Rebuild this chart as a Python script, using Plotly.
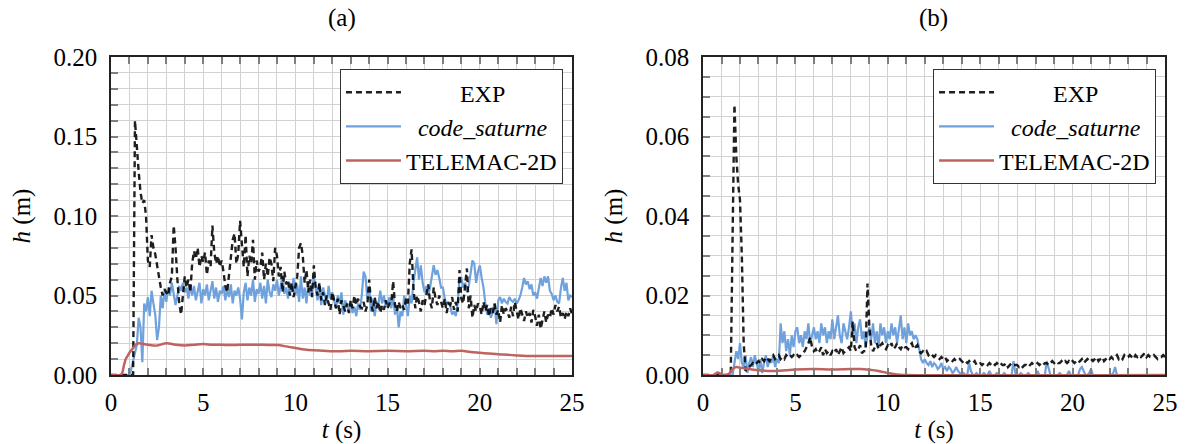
import numpy as np
import plotly.graph_objects as go

# Sampling times of the gauge records (s)
t = np.round(np.arange(0, 25.001, 0.1), 1)

# ---- Gauge (a): water depth in mm ----
exp_a_mm = [
    0, 0, 0, 0, 0, 0, 0, 0, 0, 0,
    0, 0, 0, 160, 142, 128, 115, 108, 110, 100,
    72, 68, 88, 80, 76, 68, 60, 55, 50, 54,
    52, 50, 58, 62, 94, 80, 60, 45, 38, 50,
    62, 55, 60, 52, 70, 78, 73, 80, 68, 75,
    71, 77, 63, 72, 68, 94, 77, 70, 75, 68,
    72, 65, 56, 52, 62, 72, 85, 89, 70, 76,
    97, 82, 68, 88, 62, 75, 70, 85, 60, 72,
    65, 68, 77, 60, 70, 62, 74, 70, 59, 80,
    75, 62, 68, 52, 65, 57, 60, 50, 58, 49,
    55, 62, 80, 83, 75, 58, 66, 52, 60, 49,
    69, 55, 50, 58, 47, 52, 44, 50, 45, 41,
    52, 46, 42, 48, 38, 47, 44, 40, 45, 39,
    47, 42, 50, 44, 48, 43, 42, 46, 40, 44,
    60, 45, 40, 49, 42, 46, 39, 44, 41, 47,
    42, 45, 45, 59, 44, 40, 46, 42, 44, 41,
    48, 45, 70, 79, 55, 42, 50, 46, 40, 47,
    44, 52, 57, 46, 42, 55, 48, 44, 50, 46,
    42, 48, 39, 45, 44, 49, 41, 46, 40, 66,
    48, 45, 55, 67, 42, 50, 36, 44, 40, 45,
    43, 38, 46, 40, 44, 37, 42, 39, 45, 38,
    41, 33, 44, 38, 42, 40, 36, 43, 37, 46,
    40, 35, 42, 38, 34, 40, 36, 39, 33, 41,
    37, 31, 38, 29, 35, 40, 33, 38, 36, 42,
    38, 44, 40, 43, 36, 39, 35, 40, 37, 42,
    38,
]

cs_a_mm = [
    0, 0, 0, 0, 0, 0, 0, 0, 0, 0,
    0, 4, 9, 14, 19, 36, 30, 8, 45, 40,
    49, 37, 53, 45, 38, 22, 30, 50, 42, 53,
    46, 55, 50, 58, 52, 44, 50, 56, 53, 58,
    52, 55, 48, 57, 50, 56, 47, 53, 58, 45,
    54, 50, 57, 47, 52, 59, 48, 55, 46, 53,
    51, 56, 47, 54, 49, 57, 45, 53, 50, 55,
    48, 35, 52, 58, 47, 55, 50, 60, 46, 54,
    51, 58, 48, 56, 45, 60, 52, 49, 57, 53,
    60, 50, 56, 62, 51, 55, 48, 58, 52, 61,
    50, 57, 46, 62, 48, 55, 45, 58, 50, 52,
    62, 54, 47, 58, 44, 55, 50, 45, 56, 48,
    52, 47, 42, 50, 45, 52, 38, 47, 44, 40,
    46, 39, 43, 37, 45, 41, 50, 65, 62, 48,
    55, 40, 48, 37, 46, 44, 53, 45, 50, 43,
    45, 49, 42, 50, 38, 44, 30, 40, 37, 50,
    44, 37, 50, 45, 58, 66, 74, 60, 69, 58,
    52, 56, 50, 55, 62, 69, 63, 66, 61, 55,
    55, 48, 44, 46, 43, 38, 40, 37, 45, 61,
    61, 55, 58, 52, 56, 63, 72, 70, 58, 65,
    69, 61, 55, 45, 38, 42, 36, 40, 45, 32,
    47, 49, 45, 48, 46, 45, 49, 47, 46, 48,
    45, 47, 50, 55, 61, 57, 59, 54, 57, 50,
    52, 48, 55, 61, 56, 62, 58, 62, 53, 51,
    47, 50, 46, 45, 55, 61, 53, 58, 47, 50,
    49,
]

tel_a_t = [0, 0.5, 0.6, 0.7, 0.8, 0.9, 1.0, 1.1, 1.2, 1.3, 1.4, 1.5, 1.75, 2.0,
           2.5, 3.0, 3.5, 4.0, 4.5, 5.0, 5.5, 6.0, 6.5, 7.0, 7.5, 8.0, 8.5, 9.0,
           9.5, 10.0, 10.5, 11.0, 11.5, 12.0, 12.5, 13.0, 14.0, 15.0, 16.0, 17.0,
           17.5, 18.0, 18.5, 19.0, 19.5, 20.0, 20.5, 21.0, 21.5, 22.0, 22.5, 23.0,
           24.0, 25.0]
tel_a_mm = [0, 0, 1, 6, 10, 12, 14, 15.5, 17, 18.5, 19.5, 20, 19.5, 19,
            18.5, 20, 19, 18.5, 19, 19.5, 19, 19, 18.8, 19, 19, 19, 18.9, 18.8,
            18, 17, 16, 15.5, 15.3, 15, 15, 15.2, 15, 15.2, 15, 15.2,
            15, 15.3, 15, 15.2, 14.5, 14, 13.5, 13, 12.7, 12.3, 12, 12,
            12, 12]

# ---- Gauge (b): water depth in mm ----
exp_b_mm = [
    0, 0, 0, 0, 0, 0, 0, 0, 0, 0,
    0, 0, 0, 0, 0, 0, 35, 68, 55, 48,
    44, 30, 8, 1, 1.5, 2, 2.5, 3, 2.5, 3,
    3.5, 3, 4, 3.5, 4.5, 4, 3.5, 4.5, 5, 4,
    4.5, 5, 4, 4.5, 4, 5, 4.5, 5, 4.5, 5,
    4.5, 5, 4.5, 5, 5.5, 6, 7, 8, 9.5, 7,
    6, 6.5, 5.5, 6, 7, 5, 6.5, 5.5, 6, 5,
    6, 5.5, 6.5, 5, 6, 7, 5.5, 6, 6.5, 7,
    6, 13.5, 7, 6, 6.5, 7.5, 5.5, 6, 6, 23,
    12, 7.5, 6, 7, 8, 6.5, 7.5, 8, 7, 6.5,
    7.5, 7, 8, 6.5, 7, 8, 7, 6.5, 7.5, 7,
    7, 6.5, 7.5, 8, 6.5, 7, 7.5, 6, 5.5, 6,
    5.5, 6, 5, 5.5, 5, 4.5, 5, 4.5, 4, 4.5,
    4, 4.5, 3.5, 4, 4, 3.5, 4, 3.5, 3.5, 4,
    3.5, 3, 3.5, 3, 3.5, 3, 3, 3.5, 2.5, 3,
    3, 2.5, 3, 3, 2.5, 3, 2.5, 3, 2.5, 3,
    2.5, 3, 2.5, 2.5, 3, 2, 2.5, 3, 2.5, 2.5,
    2.5, 2, 2.5, 2, 2.5, 2.5, 2, 2.5, 3, 2.5,
    2.5, 3, 2.5, 3, 2.5, 3, 3, 2.5, 3, 3.5,
    3, 3.5, 3, 3, 3.5, 3, 3.5, 3, 3.5, 3,
    3.5, 3, 3.5, 3, 3.5, 4, 3, 3.5, 4, 3.5,
    4, 3.5, 4, 4.5, 3.5, 4, 4.5, 3.5, 4, 4.5,
    4, 4.5, 4, 4.5, 5, 4, 4.5, 4, 5, 4.5,
    4.5, 5, 4.5, 4, 5, 4.5, 5, 4.5, 5, 5.5,
    4.5, 5, 4.5, 4.5, 5, 4.5, 4, 4.5, 4.5, 5,
    4.5,
]

cs_b_mm = [
    0, 0, 0, 0, 0, 0, 0, 0, 0, 0,
    0, 0, 0, 0, 0, 0, 0, 3, 6, 4,
    8, 3, 2, 5, 0.5, 3, 4.5, 2, 5, 3,
    1, 4, 0.5, 3, 5, 2, 4, 3, 5, 2,
    4, 3, 13, 8, 11, 6, 9, 5, 10, 7,
    11, 12, 8, 10, 7, 11, 9, 13, 8, 10,
    12, 9, 11, 8, 13, 10, 12, 8, 11, 9,
    14, 9, 12, 15, 10, 8, 13, 11, 9, 12,
    16, 10, 13, 8, 12, 14, 9, 11, 7, 10,
    12, 9, 13, 8, 11, 7, 13, 10, 12, 8,
    11, 9, 13, 10, 12, 8, 11, 15, 9, 12,
    8, 13, 10, 11, 9, 10, 9, 6, 4, 3,
    4, 3, 2.5, 3.5, 2, 3, 2.5, 1.5, 2, 3,
    1.5, 2, 1, 2, 1.5, 0.5, 1, 2, 1, 0.5,
    0, 0.5, 0, 0, 3, 1, 0, 0, 0.5, 0,
    0, 0, 0.5, 0, 0, 1, 0, 0, 0, 0.5,
    0, 0, 0, 0.5, 0, 0, 0, 0, 3.5, 0.5,
    0, 0, 0.5, 0, 0, 0, 0.5, 0, 0, 0,
    0, 1, 0, 0, 0, 0, 3.5, 2, 0, 0,
    0, 0, 0, 0.5, 0, 0, 0, 0, 1, 0,
    0, 0, 0, 0, 1.5, 2, 1, 0, 0, 0.5,
    1.5, 0, 0, 0, 0, 0, 0, 0, 0, 0,
    0, 0, 0.5, 2, 0, 0, 0, 0, 0, 0,
    0, 0, 0, 0, 0, 0, 0, 0, 0, 0,
    0, 0, 0, 0, 0, 0, 0, 0, 0, 0,
    0,
]

tel_b_t = [0, 0.6, 0.7, 0.8, 0.9, 1.0, 1.4, 1.6, 1.8, 2.0, 2.5, 3.0, 3.5, 4.0,
           4.5, 5.0, 6.0, 7.0, 8.0, 8.5, 9.0, 9.5, 10.0, 10.5, 11.0, 25.0]
tel_b_mm = [0, 0, 0.4, 0.6, 0.4, 0, 0.3, 1.5, 2, 1.8, 1.5, 1.2, 1.0, 1.0,
            1.2, 1.4, 1.5, 1.4, 1.5, 1.5, 1.3, 1.0, 0.5, 0.1, 0, 0]

FONT = "Liberation Serif"
C_EXP = "rgba(0,0,0,0.88)"
C_CS = "#6fa2dd"
C_TEL = "#c0625f"
NB = "\u00a0"
NAMES = [NB * 9 + "EXP", NB * 2 + "<i>code_saturne</i>", "TELEMAC-2D"]

fig = go.Figure()


def mm(v):
    return np.asarray(v, dtype=float) / 1000.0


panels = [
    ("x", "y", "legend", exp_a_mm, cs_a_mm, tel_a_t, tel_a_mm),
    ("x2", "y2", "legend2", exp_b_mm, cs_b_mm, tel_b_t, tel_b_mm),
]
for xa, ya, lg, e, c, tt, tv in panels:
    fig.add_trace(go.Scatter(x=t, y=mm(c), mode="lines", name=NAMES[1],
                             line=dict(color=C_CS, width=2.2), xaxis=xa, yaxis=ya,
                             legend=lg, legendrank=2))
    fig.add_trace(go.Scatter(x=t, y=mm(e), mode="lines", name=NAMES[0],
                             line=dict(color=C_EXP, width=2.4, dash="6px,4px"),
                             xaxis=xa, yaxis=ya, legend=lg, legendrank=1))
    fig.add_trace(go.Scatter(x=tt, y=mm(tv), mode="lines", name=NAMES[2],
                             line=dict(color=C_TEL, width=2.5, shape="spline"),
                             xaxis=xa, yaxis=ya, legend=lg, legendrank=3))

GRID = "#d2d2d2"
TICK = "#7f7f7f"
TXT = dict(family=FONT, size=25, color="black")


def xax(domain, anchor):
    return dict(domain=domain, anchor=anchor, range=[0, 25], dtick=5, tick0=0,
                automargin=False,
                showgrid=True, gridcolor=GRID, gridwidth=1, zeroline=False,
                ticks="inside", ticklen=7, tickwidth=2, tickcolor=TICK,
                showline=True, linecolor="#222", linewidth=1.5, mirror="ticks",
                minor=dict(dtick=1, tick0=0, ticks="inside", ticklen=7, tickwidth=2,
                           tickcolor=TICK, showgrid=True, gridcolor=GRID, gridwidth=1),
                tickfont=TXT, ticklabelstandoff=4,
                title=dict(text="<i>t</i> (s)", font=TXT, standoff=17))


def yax(top, dt, mdt, anchor):
    return dict(domain=[0, 1], anchor=anchor, range=[0, top], dtick=dt, tick0=0,
                tickformat=".2f", automargin=False,
                showgrid=True, gridcolor=GRID, gridwidth=1, zeroline=False,
                ticks="inside", ticklen=7, tickwidth=2, tickcolor=TICK,
                showline=True, linecolor="#222", linewidth=1.5, mirror=True,
                minor=dict(dtick=mdt, tick0=0, ticks="inside", ticklen=7, tickwidth=2,
                           tickcolor=TICK, showgrid=True, gridcolor=GRID, gridwidth=1),
                tickfont=TXT, ticklabelstandoff=7,
                title=dict(text="<i>h</i> (m)", font=TXT, standoff=16))


def leg(xr):
    return dict(x=xr, y=0.962, xanchor="right", yanchor="top", bgcolor="white",
                bordercolor="#333", borderwidth=1, traceorder="normal",
                font=dict(family=FONT, size=24, color="black"),
                tracegroupgap=0, itemwidth=55)


fig.update_layout(
    width=1187, height=444,
    margin=dict(l=111, r=22, t=57, b=69, autoexpand=False),
    paper_bgcolor="white", plot_bgcolor="white",
    font=TXT,
    xaxis=xax([0, 0.4374], "y"),
    yaxis=yax(0.20, 0.05, 0.01, "x"),
    xaxis2=xax([0.5617, 1], "y2"),
    yaxis2=yax(0.08, 0.02, 0.005, "x2"),
    legend=leg(0.4288),
    legend2=leg(0.9915),
    showlegend=True,
    annotations=[
        dict(text="(a)", x=0.2187, y=1.123, xref="paper", yref="paper",
             showarrow=False, xanchor="center", yanchor="middle",
             font=dict(family=FONT, size=25, color="black")),
        dict(text="(b)", x=0.7808, y=1.123, xref="paper", yref="paper",
             showarrow=False, xanchor="center", yanchor="middle",
             font=dict(family=FONT, size=25, color="black")),
    ],
)

fig.write_html("out.html")
